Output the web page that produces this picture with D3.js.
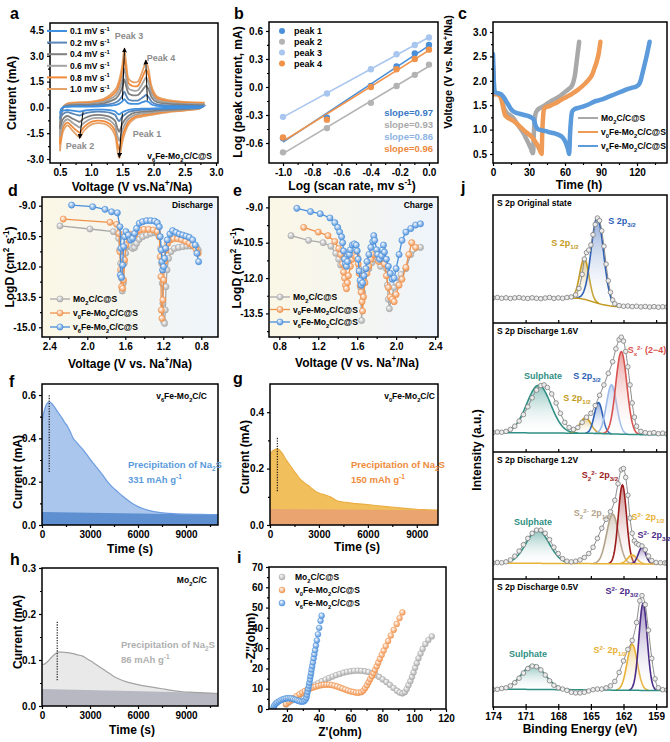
<!DOCTYPE html>
<html>
<head>
<meta charset="utf-8">
<script src="https://cdn.jsdelivr.net/npm/d3@7"></script>
<style>
  body { margin: 0; background: #fff; }
  svg { display: block; font-family: "Liberation Sans", Arial, sans-serif; font-weight: bold; }
</style>
</head>
<body>
<div id="fig"></div>
<script>
// ---------------- data ----------------
// a: CV curves, upper (anodic) and lower (cathodic) branches
const cvRates = ["0.1", "0.2", "0.4", "0.6", "0.8", "1.0"];
const cvVoltUp = [0.5, 0.52, 0.55, 0.6, 0.7, 0.8, 1.0, 1.2, 1.3, 1.4, 1.45, 1.5, 1.53, 1.56, 1.6, 1.65, 1.7, 1.75, 1.8, 1.85, 1.88, 1.92, 1.97, 2.05, 2.2, 2.4, 2.6, 2.8];
const cvUpper = [
  [-0.36, -0.08, 0.0, 0.03, 0.04, 0.04, 0.05, 0.07, 0.1, 0.15, 0.22, 0.35, 0.48, 0.36, 0.23, 0.21, 0.2, 0.21, 0.27, 0.34, 0.37, 0.31, 0.17, 0.09, 0.06, 0.05, 0.04, 0.04],
  [-0.7, -0.15, 0.0, 0.05, 0.07, 0.08, 0.09, 0.14, 0.19, 0.3, 0.43, 0.68, 0.92, 0.7, 0.45, 0.4, 0.39, 0.4, 0.51, 0.65, 0.72, 0.6, 0.32, 0.18, 0.12, 0.09, 0.08, 0.07],
  [-1.25, -0.3, 0.0, 0.1, 0.13, 0.14, 0.16, 0.24, 0.35, 0.53, 0.77, 1.2, 1.63, 1.25, 0.8, 0.72, 0.7, 0.72, 0.91, 1.15, 1.27, 1.05, 0.58, 0.31, 0.22, 0.17, 0.14, 0.13],
  [-1.7, -0.4, 0.0, 0.13, 0.18, 0.2, 0.22, 0.33, 0.48, 0.73, 1.05, 1.65, 2.25, 1.72, 1.1, 1.0, 0.96, 1.0, 1.25, 1.58, 1.75, 1.45, 0.8, 0.43, 0.3, 0.23, 0.2, 0.19],
  [-2.15, -0.5, 0.0, 0.17, 0.23, 0.25, 0.28, 0.42, 0.6, 0.92, 1.35, 2.1, 2.85, 2.2, 1.4, 1.26, 1.22, 1.26, 1.6, 2.0, 2.2, 1.85, 1.0, 0.55, 0.38, 0.3, 0.25, 0.24],
  [-2.55, -0.6, 0.0, 0.2, 0.28, 0.3, 0.33, 0.5, 0.72, 1.1, 1.6, 2.5, 3.4, 2.6, 1.65, 1.5, 1.45, 1.5, 1.9, 2.4, 2.65, 2.2, 1.2, 0.65, 0.45, 0.35, 0.3, 0.28]
];
const cvVoltDown = [2.8, 2.75, 2.6, 2.4, 2.2, 2.0, 1.8, 1.7, 1.6, 1.55, 1.5, 1.47, 1.45, 1.42, 1.38, 1.3, 1.2, 1.1, 1.0, 0.9, 0.85, 0.82, 0.78, 0.7, 0.62, 0.56, 0.52, 0.5];
const cvLower = [
  [0.04, -0.01, -0.02, -0.03, -0.04, -0.06, -0.08, -0.09, -0.14, -0.2, -0.28, -0.36, -0.41, -0.35, -0.22, -0.16, -0.13, -0.13, -0.14, -0.18, -0.22, -0.24, -0.23, -0.19, -0.15, -0.18, -0.27, -0.36],
  [0.07, -0.01, -0.04, -0.06, -0.08, -0.11, -0.15, -0.18, -0.27, -0.38, -0.54, -0.7, -0.8, -0.68, -0.43, -0.31, -0.26, -0.25, -0.27, -0.35, -0.42, -0.47, -0.45, -0.36, -0.28, -0.35, -0.51, -0.7],
  [0.13, -0.02, -0.07, -0.11, -0.14, -0.2, -0.26, -0.31, -0.48, -0.67, -0.96, -1.25, -1.42, -1.2, -0.77, -0.55, -0.46, -0.44, -0.48, -0.62, -0.74, -0.84, -0.79, -0.65, -0.5, -0.62, -0.91, -1.25],
  [0.19, -0.03, -0.1, -0.15, -0.2, -0.28, -0.36, -0.43, -0.66, -0.92, -1.32, -1.72, -1.95, -1.65, -1.06, -0.76, -0.63, -0.61, -0.66, -0.86, -1.02, -1.16, -1.09, -0.89, -0.69, -0.86, -1.25, -1.7],
  [0.24, -0.04, -0.13, -0.18, -0.25, -0.35, -0.46, -0.55, -0.84, -1.18, -1.68, -2.18, -2.48, -2.1, -1.34, -0.97, -0.8, -0.77, -0.84, -1.09, -1.3, -1.47, -1.39, -1.13, -0.88, -1.09, -1.6, -2.15],
  [0.28, -0.05, -0.15, -0.22, -0.3, -0.42, -0.55, -0.65, -1.0, -1.4, -2.0, -2.6, -2.95, -2.5, -1.6, -1.15, -0.95, -0.92, -1.0, -1.3, -1.55, -1.75, -1.65, -1.35, -1.05, -1.3, -1.9, -2.55]
];
// arrows in a: [v0, i0, v1, i1]
const cvArrows = [[1.50, 0.45, 1.535, 3.45], [1.90, 0.4, 1.875, 2.75], [1.50, -0.35, 1.45, -2.9], [0.87, -0.25, 0.815, -1.8]];

// b: log peak current vs log scan rate
const logScan = [-1, -0.699, -0.398, -0.222, -0.097, 0];
const peak1 = [-0.55, -0.33, 0.01, 0.22, 0.36, 0.45];
const peak2 = [-0.70, -0.44, -0.17, 0.01, 0.13, 0.24];
const peak3 = [-0.32, -0.07, 0.19, 0.35, 0.45, 0.53];
const peak4 = [-0.54, -0.35, 0.0, 0.19, 0.30, 0.40];
const peakNames = ["peak 1", "peak 2", "peak 3", "peak 4"];
const slopeLabels = ["slope=0.97", "slope=0.93", "slope=0.86", "slope=0.96"];

// c: GITT voltage vs time (h)
const gcdMo = [[0,2.3],[0.5,1.95],[1,1.78],[2,1.74],[4,1.72],[6,1.7],[7.5,1.62],[9,1.45],[10.5,1.38],[12,1.33],[14,1.3],[16,1.26],[18,1.2],[20,1.12],[22,1.05],[24,0.98],[26,0.9],[28,0.8],[30,0.7],[31.5,0.62],[33,0.52],[33.5,0.52],[34,0.9],[34.7,1.2],[35.5,1.33],[37,1.4],[39,1.44],[42,1.48],[45,1.53],[48,1.58],[51,1.62],[54,1.66],[57,1.71],[60,1.77],[63,1.83],[65.5,1.89],[67,1.98],[68.5,2.15],[69.5,2.35],[70.5,2.55],[71.8,2.8]];
const gcdV0 = [[0,2.2],[0.6,1.8],[1.2,1.72],[3,1.73],[5,1.71],[7,1.62],[8.5,1.45],[10,1.3],[12,1.25],[14,1.22],[17,1.18],[20,1.12],[23,1.05],[26,0.98],[29,0.92],[32,0.86],[35,0.76],[37.5,0.66],[39.5,0.55],[40.5,0.5],[41,0.9],[41.7,1.25],[42.5,1.42],[44,1.46],[47,1.48],[50,1.52],[53,1.55],[56,1.6],[59,1.64],[62,1.68],[65,1.72],[68,1.77],[71,1.82],[74,1.88],[77,1.95],[80,2.03],[82.5,2.12],[84.5,2.25],[86.5,2.4],[88,2.55],[89.5,2.8]];
const gcdV6 = [[0,2.55],[0.7,2.0],[1.5,1.78],[3,1.75],[5,1.74],[7,1.72],[9,1.66],[11,1.58],[13,1.5],[15,1.42],[17,1.37],[20,1.34],[23,1.32],[26,1.3],[29,1.28],[32,1.25],[34,1.2],[35.5,1.08],[37,1.02],[40,0.99],[44,0.97],[48,0.94],[52,0.92],[55,0.89],[58,0.84],[60.5,0.74],[62.5,0.6],[63.5,0.5],[64.2,0.9],[65,1.2],[66,1.37],[68,1.42],[72,1.45],[76,1.48],[80,1.52],[84,1.57],[88,1.6],[92,1.63],[96,1.67],[100,1.71],[104,1.75],[108,1.79],[112,1.83],[116,1.86],[119,1.88],[121.5,1.92],[123,2.0],[124.5,2.15],[126,2.3],[127.5,2.45],[129,2.62],[130.5,2.8]];
const seriesNames = ["Mo_{2}C/C@S", "v_{0}Fe-Mo_{2}C/C@S", "v_{6}Fe-Mo_{2}C/C@S"];

// d: discharge LogD vs voltage
const disMo = [[2.288,-10.0],[1.972,-10.15],[1.726,-10.28],[1.67,-10.61],[1.66,-11.19],[1.649,-11.85],[1.639,-12.59],[1.632,-13.21],[1.621,-12.83],[1.611,-11.85],[1.596,-11.35],[1.575,-11.02],[1.551,-10.99],[1.523,-11.11],[1.502,-11.06],[1.481,-10.86],[1.453,-10.66],[1.418,-10.53],[1.375,-10.45],[1.333,-10.37],[1.288,-10.33],[1.263,-10.37],[1.242,-10.53],[1.228,-11.11],[1.218,-11.85],[1.211,-12.83],[1.204,-13.82],[1.196,-14.72],[1.186,-14.81],[1.179,-14.15],[1.172,-13.0],[1.161,-12.17],[1.144,-11.6],[1.119,-11.27],[1.084,-11.11],[1.039,-11.06],[0.993,-11.02],[0.951,-10.99],[0.912,-10.99],[0.877,-10.94],[0.849,-11.06],[0.832,-11.19]];
const disV0 = [[2.253,-9.66],[1.761,-9.82],[1.691,-9.92],[1.667,-10.37],[1.656,-11.27],[1.649,-12.17],[1.639,-13.0],[1.628,-13.08],[1.618,-12.67],[1.607,-11.68],[1.593,-10.94],[1.575,-10.53],[1.551,-10.41],[1.526,-10.53],[1.502,-10.45],[1.474,-10.28],[1.446,-10.2],[1.404,-10.17],[1.354,-10.17],[1.305,-10.2],[1.263,-10.28],[1.242,-10.53],[1.232,-11.52],[1.225,-12.5],[1.221,-14.15],[1.214,-14.56],[1.204,-13.65],[1.196,-12.67],[1.186,-11.76],[1.172,-11.19],[1.154,-10.86],[1.126,-10.69],[1.091,-10.63],[1.049,-10.63],[1.007,-10.68],[0.965,-10.76],[0.926,-10.86],[0.891,-10.96],[0.856,-11.15],[0.832,-11.35]];
const disV6 = [[2.165,-8.97],[1.944,-9.05],[1.814,-9.18],[1.744,-9.3],[1.684,-9.35],[1.656,-10.04],[1.646,-11.1],[1.653,-12.42],[1.639,-12.54],[1.628,-11.93],[1.618,-11.02],[1.607,-10.53],[1.593,-10.28],[1.568,-10.45],[1.544,-10.69],[1.523,-10.61],[1.502,-10.37],[1.481,-10.12],[1.453,-9.87],[1.418,-9.79],[1.375,-9.74],[1.333,-9.74],[1.291,-9.76],[1.263,-9.84],[1.242,-10.04],[1.232,-10.53],[1.221,-11.19],[1.214,-11.76],[1.207,-12.17],[1.196,-12.01],[1.186,-11.6],[1.175,-11.1],[1.158,-10.69],[1.13,-10.4],[1.102,-10.23],[1.067,-10.32],[1.032,-10.4],[0.996,-10.45],[0.961,-10.5],[0.926,-10.56],[0.891,-10.69],[0.863,-10.94],[0.846,-11.35],[0.828,-11.76]];

// e: charge LogD vs voltage
const chgMo = [[0.92,-10.2],[1.1,-10.4],[1.25,-10.5],[1.33,-10.65],[1.38,-10.95],[1.41,-11.2],[1.43,-11.45],[1.45,-11.3],[1.47,-11.15],[1.5,-11.1],[1.53,-11.15],[1.55,-11.05],[1.58,-11.0],[1.6,-11.1],[1.62,-11.6],[1.635,-12.4],[1.645,-13.8],[1.655,-12.6],[1.67,-12.1],[1.69,-11.8],[1.72,-11.6],[1.75,-11.35],[1.78,-11.2],[1.8,-11.1],[1.82,-11.25],[1.84,-11.5],[1.86,-11.3],[1.88,-11.2],[1.9,-11.6],[1.91,-12.3],[1.92,-12.9],[1.93,-13.3],[1.95,-12.9],[1.98,-12.4],[2.0,-12.2],[2.05,-11.85],[2.1,-11.6],[2.15,-11.0],[2.25,-10.7]];
const chgV0 = [[1.05,-9.85],[1.2,-10.05],[1.3,-10.2],[1.37,-10.45],[1.41,-10.75],[1.43,-11.0],[1.45,-11.4],[1.46,-11.75],[1.47,-12.0],[1.48,-12.3],[1.49,-12.45],[1.5,-12.2],[1.51,-11.9],[1.53,-11.5],[1.55,-11.2],[1.57,-11.05],[1.59,-11.1],[1.61,-11.4],[1.62,-11.8],[1.63,-12.3],[1.64,-12.6],[1.65,-13.0],[1.655,-13.4],[1.665,-12.8],[1.68,-12.2],[1.7,-11.8],[1.72,-11.5],[1.74,-11.2],[1.77,-11.0],[1.8,-11.0],[1.82,-11.3],[1.84,-11.0],[1.86,-10.9],[1.88,-11.4],[1.9,-11.9],[1.92,-12.4],[1.94,-12.8],[1.96,-12.9],[1.98,-13.0],[2.0,-12.7],[2.03,-12.3],[2.06,-12.05],[2.1,-11.55],[2.13,-11.0],[2.16,-10.5],[2.2,-10.7]];
const chgV6 = [[0.98,-9.04],[1.12,-9.18],[1.22,-9.27],[1.32,-9.45],[1.37,-9.65],[1.4,-9.85],[1.42,-10.05],[1.44,-10.25],[1.45,-10.5],[1.46,-10.85],[1.47,-11.2],[1.48,-11.4],[1.49,-11.5],[1.5,-11.3],[1.52,-11.0],[1.53,-10.8],[1.55,-10.6],[1.57,-10.55],[1.59,-10.6],[1.6,-10.85],[1.61,-11.2],[1.62,-11.7],[1.63,-12.1],[1.64,-12.3],[1.655,-12.2],[1.67,-11.9],[1.69,-11.6],[1.7,-11.3],[1.72,-11.0],[1.74,-10.7],[1.76,-10.45],[1.77,-10.2],[1.78,-10.4],[1.8,-10.8],[1.81,-11.0],[1.83,-11.2],[1.85,-11.05],[1.86,-10.8],[1.87,-10.6],[1.88,-10.9],[1.9,-11.2],[1.92,-11.5],[1.94,-11.8],[1.96,-12.05],[1.98,-12.0],[2.0,-11.6],[2.03,-11.0],[2.06,-10.4],[2.1,-10.05],[2.15,-9.9],[2.2,-9.75],[2.25,-9.7]];

// f, g, h: potentiostatic current vs time (s)
const ctV6 = [[0,0.478],[150,0.53],[300,0.56],[460,0.569],[620,0.56],[780,0.545],[1000,0.52],[1200,0.5],[1400,0.475],[1600,0.455],[1800,0.425],[1950,0.4],[2150,0.383],[2350,0.365],[2600,0.345],[2850,0.32],[3150,0.29],[3500,0.258],[3800,0.23],[4100,0.199],[4400,0.175],[4750,0.152],[5050,0.133],[5350,0.115],[5650,0.099],[6000,0.085],[6300,0.076],[6600,0.069],[7000,0.062],[7400,0.057],[7850,0.054],[8400,0.051],[9000,0.05],[9900,0.049],[11000,0.048]];
const ctV6Base = [[0,0.06],[11000,0.047]];
const ctV6Mark = [450, 0.245, 0.605];
const ctV0 = [[0,0.252],[200,0.264],[450,0.27],[700,0.258],[1000,0.23],[1250,0.21],[1450,0.193],[1650,0.178],[1850,0.163],[2100,0.15],[2350,0.14],[2600,0.128],[2850,0.117],[3100,0.111],[3300,0.108],[3500,0.104],[3700,0.1],[3900,0.093],[4100,0.086],[4400,0.082],[4700,0.08],[5100,0.077],[5500,0.075],[6000,0.072],[6500,0.069],[7000,0.066],[7600,0.063],[8100,0.06],[8600,0.057],[9100,0.055],[9600,0.054],[10300,0.053]];
const ctV0Base = [[0,0.057],[10300,0.052]];
const ctV0Mark = [450, 0.12, 0.31];
const ctMo = [[0,0.09],[150,0.091],[300,0.095],[450,0.1],[600,0.106],[750,0.111],[900,0.115],[1050,0.117],[1300,0.117],[1600,0.116],[1950,0.114],[2250,0.111],[2500,0.109],[2750,0.104],[3000,0.099],[3300,0.092],[3600,0.085],[3900,0.078],[4250,0.07],[4550,0.063],[4850,0.058],[5250,0.053],[5700,0.049],[6200,0.045],[6700,0.042],[7250,0.039],[7750,0.036],[8300,0.033],[8800,0.031],[9300,0.03],[9850,0.029],[10400,0.028],[11000,0.027]];
const ctMoBase = [[0,0.037],[11000,0.028]];
const ctMoMark = [950, 0.056, 0.186];

// i: Nyquist plots (Z', -Z'')
const eisMo = [[19.4,2.2],[21.1,3.2],[22.8,4.1],[24.5,5.0],[26.2,5.8],[27.9,6.6],[29.6,7.6],[31.2,8.6],[32.9,9.6],[34.6,10.4],[36.3,11.2],[38,12],[39.7,12.8],[41.9,13.7],[44.2,14.5],[46.4,15.3],[48.7,16.0],[50.9,16.7],[53.2,17.3],[55.5,17.9],[57.7,18.3],[60,18.6],[62.2,18.8],[64.5,18.9],[66.7,18.8],[69,18.6],[71.2,18.2],[73.5,17.6],[75.7,16.8],[78,15.8],[80.2,14.6],[82.5,13.3],[84.7,11.9],[87,10.4],[89.2,9.0],[90.9,8.1],[92.6,7.7],[94.1,8.3],[95.3,9.8],[96.4,11.7],[97.6,13.7],[98.6,15.8],[99.6,18],[100.6,20.3],[101.6,22.6],[102.7,25],[104,27.3],[105.3,29.6],[107,32],[108.9,34],[111.1,35.8]];
const eisV0 = [[19.4,2.5],[21.1,3.6],[22.8,4.6],[24.5,5.5],[26.2,6.4],[27.9,7.3],[29.6,8.1],[31.2,8.8],[32.9,9.5],[34.6,10.1],[36.3,10.6],[38,11.0],[39.7,11.4],[41.4,11.7],[43.1,11.9],[44.8,12.0],[46.4,12.0],[48.1,11.8],[49.8,11.5],[51.5,11.1],[53.2,10.6],[54.9,10.1],[56.6,9.6],[58.3,9.1],[60,8.7],[61.7,8.4],[63.3,8.1],[65,8.0],[66.7,8.3],[68.1,9.1],[69.2,10.3],[70.3,11.7],[71.3,13.2],[72.3,14.7],[73.4,16.2],[74.4,17.7],[75.4,19.3],[76.4,21],[77.4,22.8],[78.4,24.7],[79.6,26.7],[80.8,28.8],[82.1,31],[83.6,33.5],[85.3,36.2],[87.1,39],[89,41.9],[90.8,44.8],[92.6,47.6]];
const eisV6 = [[11.4,0.2],[11.7,1.0],[12.1,1.8],[12.9,2.6],[13.8,3.2],[14.9,3.8],[16,4.3],[17.2,4.7],[18.3,5.0],[19.4,5.2],[20.5,5.3],[21.7,5.3],[22.8,5.2],[23.9,4.9],[25.1,4.6],[26.2,4.3],[27.3,4.0],[28.4,3.7],[29.6,3.6],[30.7,3.8],[31.6,4.5],[32.2,5.6],[32.6,7.0],[33,8.5],[33.4,10],[33.8,11.5],[34.1,13],[34.5,14.6],[34.8,16.2],[35.2,17.8],[35.5,19.5],[35.9,21.2],[36.3,23],[36.8,25],[37.2,27],[37.7,29],[38.2,31.3],[38.8,33.8],[39.5,36.8],[40.3,40],[41.1,43.5],[41.8,46]];

// j: XPS S 2p, intensity in % of each row; peaks = [centre eV, height, fwhm]
const xpsOrig = [[174,19.5],[173.6,19.9],[173.2,19.3],[172.8,19.7],[172.4,19.2],[172,19.6],[171.6,19.9],[171.2,19.4],[170.8,19.2],[170.4,19.7],[170,19.3],[169.6,19.0],[169.2,19.5],[168.8,19.9],[168.4,19.2],[168,19.6],[167.6,19.3],[167.2,19.9],[166.8,20.3],[166.4,22],[166.1,27],[165.8,38],[165.6,50],[165.4,55],[165.2,57],[165,61],[164.8,69],[164.6,77],[164.4,82],[164.2,80],[164,72],[163.8,60],[163.6,46],[163.4,33],[163.2,24],[163,18],[162.8,15],[162.4,13.6],[162,13.1],[161.6,13.3],[161.2,12.8],[160.8,13.1],[160.4,12.6],[160,12.9],[159.6,12.5],[159.2,12.8],[158.8,12.4],[158.4,12.7],[158,12.5]];
const xpsOrigBg = [[174,19.5],[167,19.5],[166,19.2],[165.5,18.3],[164.8,16.5],[164,14.5],[163,13],[158,12.5]];
const xpsOrigPeaks = [[165.6, 32, 1.0], [164.4, 67, 1.35]];
const xps16 = [[174,15],[173.6,15.5],[173.2,15.3],[172.8,16],[172.4,17.5],[172,20],[171.6,24],[171.2,29],[170.8,35],[170.4,42],[170,48],[169.6,51.5],[169.3,52],[169,50],[168.6,45],[168.2,38],[167.8,30],[167.4,23],[167,19],[166.6,17.5],[166.2,19],[165.8,23],[165.4,27],[165,30],[164.6,36],[164.2,44],[163.8,52],[163.4,61],[163,70],[162.7,80],[162.4,87],[162.2,89],[162,86],[161.8,78],[161.6,66],[161.4,52],[161.2,38],[161,27],[160.8,20],[160.4,16],[160,15],[159.6,14.5],[159.2,15],[158.8,14.2],[158.4,14.6],[158,14]];
const xps16Bg = [[174,15],[165,14.5],[161,13.5],[158,13.3]];
const xps16Peaks = [[169.8, 37, 2.6], [165.5, 12, 1.2], [164.3, 24, 0.9], [163.1, 38, 1.1], [162.2, 64, 1.2]];
const xps12 = [[174,12.6],[173.6,13],[173.2,12.8],[172.8,13.5],[172.4,15],[172,18],[171.6,22],[171.2,27],[170.8,32],[170.4,36],[170,38.5],[169.6,38.5],[169.2,36],[168.8,31],[168.4,25],[168,20],[167.6,16],[167.2,14],[166.8,13.5],[166.4,14],[166,15],[165.6,17],[165.2,20],[164.8,25],[164.4,32],[164,40],[163.6,47],[163.2,53],[162.8,62],[162.5,75],[162.2,86],[162,87],[161.8,80],[161.6,66],[161.4,48],[161.2,36],[161,30],[160.8,28],[160.6,27],[160.3,26],[160,23],[159.7,18],[159.4,14.5],[159,13],[158.6,12.8],[158.2,12.6],[158,12.5]];
const xps12Bg = [[174,12.5],[158,11.8]];
const xps12Peaks = [[169.9, 26, 2.5], [163.0, 39, 1.3], [162.1, 62, 0.9], [161.2, 7, 1.0], [160.3, 13, 0.8]];
const xps05 = [[174,13.5],[173.6,13.8],[173.2,14.5],[172.8,15],[172.4,16.5],[172,19],[171.6,22.5],[171.2,26.5],[170.8,30],[170.4,32],[170,31.5],[169.6,29],[169.2,25],[168.8,20.5],[168.4,17],[168,15],[167.6,14],[167.2,13],[166.8,11.5],[166.4,11],[166,11],[165.6,11.5],[165.2,12.5],[164.8,13.5],[164.4,14],[164,14],[163.6,15],[163.2,16.5],[162.8,20],[162.4,27],[162,36],[161.6,45],[161.2,52],[160.8,66],[160.5,83],[160.3,87],[160,80],[159.7,60],[159.4,38],[159.1,22],[158.8,15],[158.4,13.5],[158,13.3]];
const xps05Bg = [[174,14],[158,12.8]];
const xps05Peaks = [[170.3, 19, 2.6], [161.2, 36, 1.1], [160.2, 68, 0.9]];

// ---------------- drawing ----------------
const W = 670, H = 742;
const svg = d3.select("#fig").append("svg").attr("width", W).attr("height", H);
const defs = svg.append("defs");
let uid = 0;

// text with _{sub} and ^{sup}
function rich(sel, str, size) {
  const parts = [];
  const re = /([_^])\{([^}]*)\}/g;
  let last = 0, m;
  while ((m = re.exec(str))) {
    if (m.index > last) parts.push({ t: str.slice(last, m.index), k: 0 });
    parts.push({ t: m[2], k: m[1] === "_" ? 1 : -1 });
    last = re.lastIndex;
  }
  if (last < str.length) parts.push({ t: str.slice(last), k: 0 });
  let cur = 0;
  parts.forEach(p => {
    const off = p.k === 1 ? size * 0.3 : p.k === -1 ? -size * 0.38 : 0;
    sel.append("tspan").attr("dy", off - cur).attr("font-size", p.k ? size * 0.68 : size).text(p.t);
    cur = off;
  });
  return sel;
}

function label(g, x, y, str, o = {}) {
  const size = o.size || 10;
  const t = g.append("text").attr("x", x).attr("y", y)
    .attr("font-size", size)
    .attr("fill", o.color || "#000")
    .attr("text-anchor", o.anchor || "start");
  if (o.rotate) t.attr("transform", `rotate(-90,${x},${y})`);
  return rich(t, str, size);
}

function ball(color) {
  const id = "ball" + (uid++);
  const g = defs.append("radialGradient").attr("id", id)
    .attr("cx", "45%").attr("cy", "42%").attr("r", "60%").attr("fx", "35%").attr("fy", "30%");
  g.append("stop").attr("offset", "0%").attr("stop-color", "#fff");
  g.append("stop").attr("offset", "100%").attr("stop-color", color);
  return `url(#${id})`;
}

function fade(color, op) {
  const id = "fade" + (uid++);
  const g = defs.append("linearGradient").attr("id", id).attr("x1", 0).attr("y1", 0).attr("x2", 0).attr("y2", 1);
  g.append("stop").attr("offset", "0%").attr("stop-color", color).attr("stop-opacity", op);
  g.append("stop").attr("offset", "100%").attr("stop-color", "#fff").attr("stop-opacity", 0.05);
  return `url(#${id})`;
}

// clipped plotting group
function plotArea(x, y) {
  const [xl, xr] = x.range(), [yb, yt] = y.range();
  const id = "clip" + (uid++);
  defs.append("clipPath").attr("id", id).append("rect")
    .attr("x", xl).attr("y", yt).attr("width", xr - xl).attr("height", yb - yt);
  return svg.append("g").attr("clip-path", `url(#${id})`);
}

function axes(x, y, o) {
  const g = svg.append("g");
  const [xl, xr] = x.range(), [yb, yt] = y.range();
  const fx = o.xf || (d => d.toFixed(1)), fy = o.yf || (d => d.toFixed(1));
  const clean = a => {
    a.select(".domain").remove();
    a.attr("font-family", null).attr("font-size", 10);
    a.selectAll("line").attr("stroke-width", 1.2);
  };
  if (o.xt) g.append("g").attr("transform", `translate(0,${yb})`)
    .call(d3.axisBottom(x).tickValues(o.xt).tickFormat(fx).tickSize(3).tickPadding(3)).call(clean);
  if (o.yt) g.append("g").attr("transform", `translate(${xl},0)`)
    .call(d3.axisLeft(y).tickValues(o.yt).tickFormat(fy).tickSize(3).tickPadding(3)).call(clean);
  if (o.xm) g.append("g").attr("transform", `translate(0,${yb})`)
    .call(d3.axisBottom(x).tickValues(o.xm).tickFormat(() => "").tickSize(2)).call(clean);
  if (o.ym) g.append("g").attr("transform", `translate(${xl},0)`)
    .call(d3.axisLeft(y).tickValues(o.ym).tickFormat(() => "").tickSize(2)).call(clean);
  g.append("rect").attr("x", xl).attr("y", yt).attr("width", xr - xl).attr("height", yb - yt)
    .attr("fill", "none").attr("stroke", "#000").attr("stroke-width", 1.5);
  return g;
}

const ann = svg.append("g"); // all titles and labels, raised at the end
const letter = (t, x, y) => ann.append("text").attr("x", x).attr("y", y).attr("font-size", 16).text(t);

const grey = "#a9a9a9", orange = "#f0914a", blue = "#4a8fdb";
const trio = [grey, orange, blue];

// ===== a: CV =====
{
  const x = d3.scaleLinear().domain([0.34, 3.032]).range([50, 218]);
  const y = d3.scaleLinear().domain([-3.233, 4.907]).range([163, 23]);
  const cols = ["#3f90e0", "#5a86b8", "#7f7f7f", "#a3a3a3", "#ef8b3b", "#e3a36b"];
  const p = plotArea(x, y);
  const line = d3.line().x(d => x(d[0])).y(d => y(d[1])).curve(d3.curveCatmullRom.alpha(0.5));
  for (let k = cvRates.length - 1; k >= 0; k--) {
    const pts = cvVoltUp.map((v, i) => [v, cvUpper[k][i]]).concat(cvVoltDown.map((v, i) => [v, cvLower[k][i]]));
    p.append("path").attr("d", line(pts)).attr("fill", "none").attr("stroke", cols[k]).attr("stroke-width", 1.8);
  }
  defs.append("marker").attr("id", "arr").attr("viewBox", "0 0 8 8").attr("refX", 7).attr("refY", 4)
    .attr("markerWidth", 5).attr("markerHeight", 5).attr("orient", "auto")
    .append("path").attr("d", "M0,0L8,4L0,8z").attr("fill", "#000");
  cvArrows.forEach(a => p.append("line").attr("x1", x(a[0])).attr("y1", y(a[1])).attr("x2", x(a[2])).attr("y2", y(a[3]))
    .attr("stroke", "#000").attr("stroke-width", 1).attr("marker-end", "url(#arr)"));
  axes(x, y, { xt: [0.5, 1, 1.5, 2, 2.5, 3], yt: [-3, -1.5, 0, 1.5, 3, 4.5], xm: [0.75, 1.25, 1.75, 2.25, 2.75], ym: [-2.25, -0.75, 0.75, 2.25, 3.75] });
  cvRates.forEach((r, k) => {
    const yy = 31 + k * 11.6;
    ann.append("line").attr("x1", 47).attr("x2", 67).attr("y1", yy).attr("y2", yy).attr("stroke", cols[k]).attr("stroke-width", 2);
    label(ann, 70, yy + 3.2, `${r} mV s^{-1}`, { size: 8.5 });
  });
  label(ann, 129, 39, "Peak 3", { size: 9, color: "#8c8c8c", anchor: "middle" });
  label(ann, 161, 61, "Peak 4", { size: 9, color: "#8c8c8c", anchor: "middle" });
  label(ann, 147, 137, "Peak 1", { size: 9, color: "#8c8c8c", anchor: "middle" });
  label(ann, 80, 149, "Peak 2", { size: 9, color: "#8c8c8c", anchor: "middle" });
  label(ann, 212, 159, "v_{6}Fe-Mo_{2}C/C@S", { size: 8.5, anchor: "end" });
  label(ann, 16, 93, "Current (mA)", { size: 12, rotate: true, anchor: "middle" });
  label(ann, 132, 191, "Voltage (V vs.Na^{+}/Na)", { size: 12, anchor: "middle" });
  letter("a", 10, 19);
}

// ===== b: log-log =====
{
  const x = d3.scaleLinear().domain([-1.096, 0.062]).range([269, 438]);
  const y = d3.scaleLinear().domain([-0.814, 0.696]).range([163, 22]);
  const p = plotArea(x, y);
  const sets = [peak1, peak2, peak3, peak4];
  const cols = ["#4a8fd9", "#b3b3b3", "#a8c6ee", "#f0924a"];
  const slopeCols = ["#3b79c5", "#a9a9a9", "#8fb4e3", "#ee8a3e"];
  sets.forEach((ys, k) => {
    const mx = d3.mean(logScan), my = d3.mean(ys);
    const k1 = d3.sum(logScan, (v, i) => (v - mx) * (ys[i] - my)) / d3.sum(logScan, v => (v - mx) ** 2);
    const b0 = my - k1 * mx;
    p.append("line").attr("x1", x(-1)).attr("x2", x(0)).attr("y1", y(b0 - k1)).attr("y2", y(b0))
      .attr("stroke", cols[k]).attr("stroke-width", 1.6);
  });
  [1, 0, 2, 3].forEach(k => {
    p.selectAll(null).data(logScan.map((v, i) => [v, sets[k][i]])).join("circle")
      .attr("cx", d => x(d[0])).attr("cy", d => y(d[1])).attr("r", 3.2).attr("fill", cols[k]);
  });
  axes(x, y, { xt: [-1, -0.8, -0.6, -0.4, -0.2, 0], yt: [-0.6, -0.3, 0, 0.3, 0.6], xm: [-0.9, -0.7, -0.5, -0.3, -0.1], ym: [-0.45, -0.15, 0.15, 0.45] });
  peakNames.forEach((n, k) => {
    const yy = 31 + k * 10.8;
    ann.append("circle").attr("cx", 282).attr("cy", yy).attr("r", 3).attr("fill", cols[k]);
    label(ann, 294, yy + 3.3, n, { size: 9 });
  });
  slopeLabels.forEach((s, k) => label(ann, 433, 116 + k * 12, s, { size: 9.5, color: slopeCols[k], anchor: "end" }));
  label(ann, 242, 92, "Log (peak current, mA)", { size: 12, rotate: true, anchor: "middle" });
  label(ann, 352, 190, "Log (scan rate, mv s^{-1})", { size: 12, anchor: "middle" });
  letter("b", 234, 19);
}

// ===== c: GITT =====
{
  const x = d3.scaleLinear().domain([0, 145]).range([493, 667]);
  const y = d3.scaleLinear().domain([0.316, 3.205]).range([163, 22]);
  const p = plotArea(x, y);
  const line = d3.line().x(d => x(d[0])).y(d => y(d[1])).curve(d3.curveMonotoneX);
  const cols = ["#a9a9a9", "#ef9a55", "#5b9bdc"];
  [gcdMo, gcdV0, gcdV6].forEach((s, k) => {
    p.append("path").attr("d", line(s)).attr("fill", "none").attr("stroke", cols[k])
      .attr("stroke-width", 4.5).attr("stroke-linejoin", "round").attr("stroke-linecap", "round");
  });
  axes(x, y, { xt: [0, 30, 60, 90, 120], yt: [0.5, 1, 1.5, 2, 2.5, 3], xf: d3.format("d"), xm: [15, 45, 75, 105, 135], ym: [0.75, 1.25, 1.75, 2.25, 2.75] });
  seriesNames.forEach((n, k) => {
    const yy = 118 + k * 14;
    ann.append("line").attr("x1", 578).attr("x2", 598).attr("y1", yy).attr("y2", yy).attr("stroke", cols[k]).attr("stroke-width", 2);
    label(ann, 601, yy + 3, n, { size: 8.5 });
  });
  label(ann, 452, 72, "Voltage  (V vs. Na^{+}/Na)", { size: 11, rotate: true, anchor: "middle" });
  label(ann, 579, 189, "Time (h)", { size: 12, anchor: "middle" });
  letter("c", 458, 19);
}

// ===== d, e: LogD =====
function logDPanel(x, y, sets, tag, leg) {
  const bgId = "bgd" + (uid++);
  const lg = defs.append("linearGradient").attr("id", bgId);
  lg.append("stop").attr("offset", "0%").attr("stop-color", "#fbf7e6");
  lg.append("stop").attr("offset", "100%").attr("stop-color", "#eef4fb");
  const [xl, xr] = x.range(), [yb, yt] = y.range();
  svg.append("rect").attr("x", xl).attr("y", yt).attr("width", xr - xl).attr("height", yb - yt).attr("fill", `url(#${bgId})`);
  const p = plotArea(x, y);
  const line = d3.line().x(d => x(d[0])).y(d => y(d[1]));
  const fills = trio.map(ball);
  sets.forEach((s, k) => {
    p.append("path").attr("d", line(s)).attr("fill", "none").attr("stroke", trio[k]).attr("stroke-width", 1.3);
    p.selectAll(null).data(s).join("circle").attr("cx", d => x(d[0])).attr("cy", d => y(d[1]))
      .attr("r", 3.1).attr("fill", fills[k]).attr("stroke", trio[k]).attr("stroke-width", 0.6);
  });
  seriesNames.forEach((n, k) => {
    const yy = leg.y + k * leg.dy;
    ann.append("line").attr("x1", leg.x).attr("x2", leg.x + 20).attr("y1", yy).attr("y2", yy).attr("stroke", trio[k]).attr("stroke-width", 1.3);
    ann.append("circle").attr("cx", leg.x + 10).attr("cy", yy).attr("r", 3.1).attr("fill", fills[k]).attr("stroke", trio[k]).attr("stroke-width", 0.6);
    label(ann, leg.x + 23, yy + 3.2, n, { size: 8.5 });
  });
  label(ann, xr - 5, yt + 11, tag, { size: 8.5, anchor: "end" });
}
{
  const x = d3.scaleLinear().domain([2.477, 0.624]).range([42, 218]);
  const y = d3.scaleLinear().domain([-15.48, -8.57]).range([337, 197]);
  logDPanel(x, y, [disMo, disV0, disV6], "Discharge", { x: 50, y: 299, dy: 14 });
  axes(x, y, { xt: [2.4, 2.0, 1.6, 1.2, 0.8], yt: [-15, -13.5, -12, -10.5, -9], xm: [2.2, 1.8, 1.4, 1.0], ym: [-14.25, -12.75, -11.25, -9.75] });
  label(ann, 14, 267, "LogD (cm^{2} s^{-1})", { size: 12, rotate: true, anchor: "middle" });
  label(ann, 130, 368, "Voltage (V vs. Na^{+}/Na)", { size: 12, anchor: "middle" });
  letter("d", 8, 196);
}
{
  const x = d3.scaleLinear().domain([0.694, 2.43]).range([269, 438]);
  const y = d3.scaleLinear().domain([-14.5, -8.56]).range([337, 197]);
  logDPanel(x, y, [chgMo, chgV0, chgV6], "Charge", { x: 270, y: 297, dy: 12.5 });
  axes(x, y, { xt: [0.8, 1.2, 1.6, 2.0, 2.4], yt: [-13.5, -12, -10.5, -9], xm: [1.0, 1.4, 1.8, 2.2], ym: [-14.25, -12.75, -11.25, -9.75] });
  label(ann, 241, 268, "LogD (cm^{2} s^{-1})", { size: 12, rotate: true, anchor: "middle" });
  label(ann, 357, 367, "Voltage  (V vs. Na^{+}/Na)", { size: 12, anchor: "middle" });
  letter("e", 233, 196);
}

// ===== f, g, h: Na2S precipitation =====
function ctPanel(x, y, curve, base, mark, c, txt) {
  const p = plotArea(x, y);
  const [yb] = y.range();
  const area = d3.area().x(d => x(d[0])).y0(yb).y1(d => y(d[1])).curve(d3.curveMonotoneX);
  p.append("path").attr("d", area(curve)).attr("fill", c.top);
  p.append("path").attr("d", area(base)).attr("fill", c.base);
  p.append("path").attr("d", d3.line().x(d => x(d[0])).y(d => y(d[1])).curve(d3.curveMonotoneX)(curve))
    .attr("fill", "none").attr("stroke", c.line).attr("stroke-width", 1.2);
  p.append("line").attr("x1", x(mark[0])).attr("x2", x(mark[0])).attr("y1", y(mark[1])).attr("y2", y(mark[2]))
    .attr("stroke", "#111").attr("stroke-width", 1.1).attr("stroke-dasharray", "1.3,1.3");
  label(ann, txt.x, txt.y, "Precipitation of Na_{2}S", { size: 9.5, color: c.text });
  label(ann, txt.x, txt.y + 15, txt.cap, { size: 9.5, color: c.text });
  label(ann, txt.nx, txt.ny, txt.name, { size: 8.5, anchor: "end" });
}
{
  const x = d3.scaleLinear().domain([0, 11000]).range([42, 218]);
  const y = d3.scaleLinear().domain([0, 0.651]).range([525, 384]);
  ctPanel(x, y, ctV6, ctV6Base, ctV6Mark, { top: "#abc6ec", base: "#5e8fd1", line: "#6d9de0", text: "#5b9bdc" },
    { x: 128, y: 468, cap: "331 mAh g^{-1}", nx: 207, ny: 399, name: "v_{6}Fe-Mo_{2}C/C" });
  axes(x, y, { xt: [0, 3000, 6000, 9000], yt: [0, 0.2, 0.4, 0.6], xf: d3.format("d"), xm: [1500, 4500, 7500, 10500], ym: [0.1, 0.3, 0.5] });
  label(ann, 22, 472, "Current (mA)", { size: 12, rotate: true, anchor: "middle" });
  label(ann, 130, 553, "Time (s)", { size: 12, anchor: "middle" });
  letter("f", 9, 387);
}
{
  const x = d3.scaleLinear().domain([0, 10300]).range([270, 438]);
  const y = d3.scaleLinear().domain([0, 0.5]).range([525, 384]);
  ctPanel(x, y, ctV0, ctV0Base, ctV0Mark, { top: "#f1bf5c", base: "#e9a470", line: "#eaae45", text: "#ee8c3c" },
    { x: 351, y: 468, cap: "150 mAh g^{-1}", nx: 435, ny: 399, name: "v_{0}Fe-Mo_{2}C/C" });
  axes(x, y, { xt: [0, 3000, 6000, 9000], yt: [0, 0.2, 0.4], xf: d3.format("d"), xm: [1500, 4500, 7500], ym: [0.1, 0.3] });
  label(ann, 249, 457, "Current (mA)", { size: 12, rotate: true, anchor: "middle" });
  label(ann, 357, 551, "Time (s)", { size: 12, anchor: "middle" });
  letter("g", 233, 384);
}
{
  const x = d3.scaleLinear().domain([0, 11000]).range([42, 218]);
  const y = d3.scaleLinear().domain([0, 0.3]).range([706, 568]);
  ctPanel(x, y, ctMo, ctMoBase, ctMoMark, { top: "#e9e9e9", base: "#b8b8c3", line: "#a3a3a3", text: "#b0b0b0" },
    { x: 121, y: 648, cap: "86 mAh g^{-1}", nx: 207, ny: 583, name: "Mo_{2}C/C" });
  axes(x, y, { xt: [0, 3000, 6000, 9000], yt: [0, 0.1, 0.2, 0.3], xf: d3.format("d"), xm: [1500, 4500, 7500, 10500], ym: [0.05, 0.15, 0.25] });
  label(ann, 22, 632, "Current (mA)", { size: 12, rotate: true, anchor: "middle" });
  label(ann, 132, 734, "Time (s)", { size: 12, anchor: "middle" });
  letter("h", 10, 565);
}

// ===== i: EIS =====
{
  const x = d3.scaleLinear().domain([8.7, 120]).range([269, 446]);
  const y = d3.scaleLinear().domain([0, 70]).range([709, 567]);
  const p = plotArea(x, y);
  const fills = trio.map(ball);
  [eisMo, eisV0, eisV6].forEach((s, k) => {
    p.selectAll(null).data(s).join("circle").attr("cx", d => x(d[0])).attr("cy", d => y(d[1]))
      .attr("r", 2.9).attr("fill", fills[k]).attr("stroke", trio[k]).attr("stroke-width", 0.5);
  });
  axes(x, y, { xt: [20, 40, 60, 80, 100, 120], yt: [0, 10, 20, 30, 40, 50, 60, 70], xf: d3.format("d"), yf: d3.format("d"), xm: [30, 50, 70, 90, 110], ym: [5, 15, 25, 35, 45, 55, 65] });
  seriesNames.forEach((n, k) => {
    const yy = 577 + k * 13;
    ann.append("circle").attr("cx", 282).attr("cy", yy).attr("r", 3).attr("fill", fills[k]).attr("stroke", trio[k]).attr("stroke-width", 0.5);
    label(ann, 295, yy + 3.2, n, { size: 8.5 });
  });
  label(ann, 255, 638, "-Z''(ohm)", { size: 12, rotate: true, anchor: "middle" });
  label(ann, 340, 736, "Z'(ohm)", { size: 12, anchor: "middle" });
  letter("i", 237, 563);
}

// ===== j: XPS =====
{
  const x = d3.scaleLinear().domain([174, 158]).range([493, 667]);
  const grid = d3.range(174, 157.96, -0.05);
  const gauss = (e, pk) => pk[1] * Math.exp(-4 * Math.LN2 * (e - pk[0]) ** 2 / (pk[2] * pk[2]));
  const teal = "#2f8f84", gold = "#c49a22", sBlue = "#2c5fb6", lBlue = "#9dbbea", red = "#d9534f",
        dRed = "#9b1b1b", tan = "#b2a28a", yel = "#e8b235", purple = "#4b2a88";
  const rows = [
    { top: 195, bot: 323, pts: xpsOrig, bg: xpsOrigBg, peaks: xpsOrigPeaks, cols: [gold, sBlue], bgc: gold, title: "S 2p Original state",
      tags: [["S 2p_{3/2}", 622, 224, sBlue], ["S 2p_{1/2}", 565, 246, gold]] },
    { top: 323, bot: 452, pts: xps16, bg: xps16Bg, peaks: xps16Peaks, cols: [teal, gold, sBlue, lBlue, red], bgc: teal, title: "S 2p Discharge  1.6V",
      tags: [["Sulphate", 543, 379, teal], ["S 2p_{3/2}", 587, 379, sBlue], ["S 2p_{1/2}", 577, 401, gold], ["S_{x}^{2-} (2\u22124)", 647, 353, red]] },
    { top: 452, bot: 579, pts: xps12, bg: xps12Bg, peaks: xps12Peaks, cols: [teal, tan, dRed, yel, purple], bgc: yel, title: "S 2p Discharge  1.2V",
      tags: [["Sulphate", 533, 525, teal], ["S_{2}^{2-} 2p_{3/2}", 600, 478, dRed], ["S_{2}^{2-} 2p_{1/2}", 592, 516, tan], ["S^{2-} 2p_{1/2}", 648, 520, yel], ["S^{2-} 2p_{3/2}", 654, 538, purple]] },
    { top: 579, bot: 707, pts: xps05, bg: xps05Bg, peaks: xps05Peaks, cols: [teal, yel, purple], bgc: teal, title: "S 2p Discharge  0.5V",
      tags: [["Sulphate", 528, 657, teal], ["S^{2-} 2p_{3/2}", 622, 594, purple], ["S^{2-} 2p_{1/2}", 610, 653, yel]] }
  ];
  rows.forEach(r => {
    const y = d3.scaleLinear().domain([0, 100]).range([r.bot, r.top]);
    const bgS = d3.scaleLinear().domain(r.bg.map(d => d[0])).range(r.bg.map(d => d[1]));
    const p = plotArea(x, y);
    r.peaks.forEach((pk, k) => {
      const comp = grid.map(e => [e, bgS(e), bgS(e) + gauss(e, pk)]).filter(d => d[2] - d[1] > 0.15);
      p.append("path").attr("d", d3.area().x(d => x(d[0])).y0(d => y(d[1])).y1(d => y(d[2]))(comp))
        .attr("fill", fade(r.cols[k], 0.55));
      p.append("path").attr("d", d3.line().x(d => x(d[0])).y(d => y(d[2]))(comp))
        .attr("fill", "none").attr("stroke", r.cols[k]).attr("stroke-width", 1.6);
    });
    p.append("path").attr("d", d3.line().x(d => x(d)).y(d => y(bgS(d)))(grid))
      .attr("fill", "none").attr("stroke", r.bgc).attr("stroke-width", 1.5);
    p.append("path").attr("d", d3.line().x(d => x(d[0])).y(d => y(d[1])).curve(d3.curveMonotoneX)(r.pts))
      .attr("fill", "none").attr("stroke", "#8a8a8a").attr("stroke-width", 1);
    p.selectAll(null).data(r.pts).join("circle").attr("cx", d => x(d[0])).attr("cy", d => y(d[1]))
      .attr("r", 2.3).attr("fill", "#ececec").attr("stroke", "#7d7d7d").attr("stroke-width", 0.8);
    // inward ticks along the row bottom
    svg.append("g").attr("transform", `translate(0,${r.bot})`)
      .call(d3.axisTop(x).tickValues([171, 168, 165, 162, 159]).tickFormat(() => "").tickSize(3))
      .call(a => { a.select(".domain").remove(); a.selectAll("line").attr("stroke-width", 1.2); });
    label(ann, 497, r.top + 11, r.title, { size: 8.5 });
    r.tags.forEach(t => label(ann, t[1], t[2], t[0], { size: 9, color: t[3], anchor: "middle" }));
  });
  const y = d3.scaleLinear().domain([0, 1]).range([707, 195]);
  axes(x, y, { xt: [174, 171, 168, 165, 162, 159], xf: d3.format("d") });
  [323, 452, 579].forEach(v => svg.append("line").attr("x1", 493).attr("x2", 667).attr("y1", v).attr("y2", v)
    .attr("stroke", "#000").attr("stroke-width", 1.5));
  label(ann, 481, 450, "Intensity (a.u.)", { size: 12, rotate: true, anchor: "middle" });
  label(ann, 580, 733, "Binding Energy (eV)", { size: 12, anchor: "middle" });
  letter("j", 461, 193);
}

ann.raise();
</script>
</body>
</html>
